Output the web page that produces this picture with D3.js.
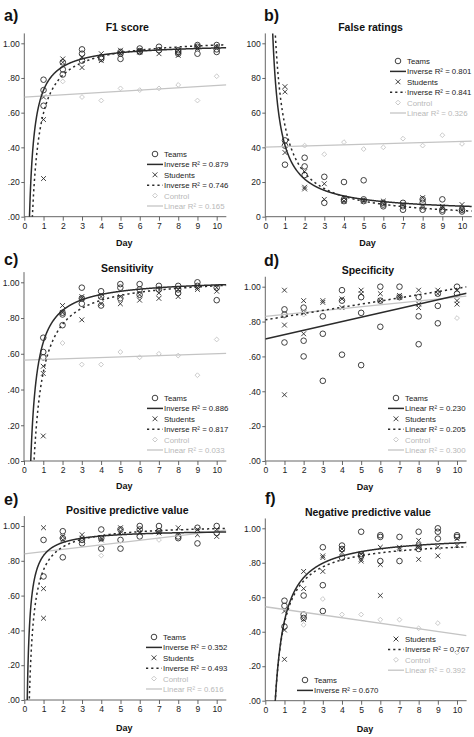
<!DOCTYPE html>
<html>
<head>
<meta charset="utf-8">
<script src="https://cdn.jsdelivr.net/npm/d3@7"></script>
<style>
  body { margin: 0; background: #fff; }
  text { font-family: "Liberation Sans", Arial, sans-serif; }
</style>
</head>
<body>
<svg id="chart" width="474" height="737"></svg>
<script>
// DATA: [day, value]
const f1Teams = [[1,.79],[1,.73],[1,.64],[2,.89],[2,.85],[2,.82],[3,.965],[3,.94],[3,.90],[4,.92],[4,.91],[5,.91],[5,.94],[5,.95],[6,.97],[6,.955],[6,.95],[7,.98],[7,.96],[8,.96],[8,.94],[8,.95],[9,.99],[9,.98],[9,.94],[10,.99],[10,.965],[10,.95]];
const f1Students = [[1,.69],[1,.56],[1,.22],[2,.91],[2,.89],[3,.86],[3,.92],[4,.94],[4,.90],[5,.96],[5,.94],[6,.95],[6,.96],[7,.94],[8,.93],[8,.96],[9,.98],[9,.97],[10,.98]];
const f1Control = [[2,.78],[3,.69],[4,.67],[5,.74],[6,.73],[7,.74],[8,.76],[9,.67],[10,.81]];
const f1Fits = [
  { group: "Teams", model: "Inverse", b0: 1.0, b1: -0.27, r2: "0.879" },
  { group: "Students", model: "Inverse", b0: 1.033, b1: -0.434, r2: "0.746" },
  { group: "Control", model: "Linear", b0: 0.69, b1: 0.0067, r2: "0.165" }
];

const falseTeams = [[1,44],[1,41],[1,30],[2,34],[2,29],[2,24],[3,23],[3,8],[4,20],[4,10],[4,9],[5,21],[5,10],[5,9],[6,8],[6,7],[6,6],[7,8],[7,6],[7,4],[8,10],[8,8],[8,4],[9,10],[9,4],[9,3],[10,4],[10,3]];
const falseStudents = [[1,75],[1,72],[1,37],[2,26],[2,17],[2,16],[3,19],[3,10],[4,11],[4,9],[5,9],[6,9],[7,7],[8,11],[8,5],[9,6],[9,5],[10,7],[10,4]];
const falseControl = [[2,41],[3,36],[4,43],[5,39],[6,40],[7,45],[8,41],[9,47],[10,42]];
const falseFits = [
  { group: "Teams", model: "Inverse", b0: 2.2, b1: 39, r2: "0.801" },
  { group: "Students", model: "Inverse", b0: -1.95, b1: 54.5, r2: "0.841" },
  { group: "Control", model: "Linear", b0: 40.1, b1: 0.33, r2: "0.326" }
];

const sensTeams = [[1,.69],[1,.61],[1,.58],[2,.83],[2,.82],[2,.76],[3,.97],[3,.91],[3,.88],[4,.95],[4,.92],[4,.87],[5,.99],[5,.97],[5,.91],[6,.99],[6,.96],[6,.93],[7,.98],[7,.96],[8,.98],[8,.96],[8,.94],[9,1.0],[9,.98],[10,.97],[10,.90]];
const sensStudents = [[1,.53],[1,.49],[1,.14],[2,.87],[2,.83],[3,.92],[3,.91],[3,.79],[4,.92],[4,.88],[5,.92],[5,.88],[6,.93],[6,.90],[7,.94],[7,.91],[8,.96],[8,.92],[9,.97],[9,.96],[10,.97],[10,.95]];
const sensControl = [[2,.66],[3,.54],[4,.54],[5,.61],[6,.58],[7,.60],[8,.59],[9,.48],[10,.68]];
const sensFits = [
  { group: "Teams", model: "Inverse", b0: 1.021, b1: -0.357, r2: "0.886" },
  { group: "Students", model: "Inverse", b0: 1.034, b1: -0.538, r2: "0.817" },
  { group: "Control", model: "Linear", b0: 0.565, b1: 0.0035, r2: "0.033" }
];

const specTeams = [[1,.87],[1,.84],[1,.68],[2,.88],[2,.69],[2,.60],[3,.83],[3,.73],[3,.46],[4,.98],[4,.92],[4,.61],[5,.94],[5,.85],[5,.55],[6,1.0],[6,.92],[6,.77],[7,1.0],[7,.94],[8,.94],[8,.83],[8,.67],[9,.96],[9,.89],[9,.79],[10,1.0],[10,.96]];
const specStudents = [[1,.98],[1,.78],[1,.38],[2,.92],[2,.85],[2,.73],[3,.92],[3,.91],[4,.93],[4,.88],[5,.98],[5,.96],[6,.96],[6,.92],[7,.95],[7,.94],[8,.98],[8,.90],[8,.88],[9,.98],[9,.96],[10,.98],[10,.92],[10,.90]];
const specControl = [[1,.83],[2,.84],[6,.92],[7,.94],[9,.97],[10,.82]];
const specFits = [
  { group: "Teams", model: "Linear", b0: 0.70, b1: 0.025, r2: "0.230" },
  { group: "Students", model: "Linear", b0: 0.81, b1: 0.018, r2: "0.205" },
  { group: "Control", model: "Linear", b0: 0.83, b1: 0.011, r2: "0.300" }
];

const ppvTeams = [[1,.92],[1,.71],[2,.97],[2,.93],[2,.82],[3,.92],[3,.90],[4,.98],[4,.93],[4,.87],[5,.98],[5,.92],[5,.87],[6,1.0],[6,.98],[6,.94],[7,1.0],[7,.97],[8,.94],[8,.93],[9,.99],[9,.90],[10,1.0],[10,.96]];
const ppvStudents = [[1,.99],[1,.64],[1,.47],[2,.94],[2,.92],[3,.95],[3,.93],[4,.93],[4,.92],[5,.99],[5,.97],[6,.98],[6,.96],[7,.97],[7,.96],[8,.99],[8,.95],[9,.98],[9,.95],[10,.98],[10,.94]];
const ppvControl = [[4,.83],[7,.92]];
const ppvFits = [
  { group: "Teams", model: "Inverse", b0: 0.98, b1: -0.15, r2: "0.352" },
  { group: "Students", model: "Inverse", b0: 1.011, b1: -0.263, r2: "0.493" },
  { group: "Control", model: "Linear", b0: 0.84, b1: 0.013, r2: "0.616" }
];

const npvTeams = [[1,.58],[1,.55],[1,.43],[2,.61],[2,.50],[2,.48],[3,.89],[3,.67],[3,.52],[4,.90],[4,.88],[4,.83],[5,.98],[5,.85],[5,.84],[6,.96],[6,.95],[6,.81],[7,.95],[7,.81],[8,.98],[8,.90],[8,.88],[9,1.0],[9,.98],[9,.94],[10,.96],[10,.95]];
const npvStudents = [[1,.52],[1,.41],[1,.24],[2,.75],[2,.65],[2,.47],[3,.84],[3,.83],[3,.75],[4,.88],[4,.86],[5,.85],[5,.82],[5,.81],[6,.89],[6,.79],[6,.61],[7,.89],[7,.88],[8,.93],[8,.89],[8,.82],[9,.89],[9,.84],[10,.94],[10,.90]];
const npvControl = [[2,.44],[3,.59],[4,.50],[5,.50],[6,.47],[7,.47],[8,.42],[9,.45],[10,.28]];
const npvFits = [
  { group: "Teams", model: "Inverse", b0: 0.965, b1: -0.502, r2: "0.670" },
  { group: "Students", model: "Inverse", b0: 0.939, b1: -0.488, r2: "0.767" },
  { group: "Control", model: "Linear", b0: 0.545, b1: -0.016, r2: "0.392" }
];

const groupNames = ["Teams", "Students", "Control"];
const dayTicks = d3.range(0, 11);

// PANEL SETUP (layout only)
const panels = [
  { label: "a)", title: "F1 score", teams: f1Teams, students: f1Students, control: f1Control, fits: f1Fits,
    ymax: 1.057, unit: 1, x0: 24.3, x10: 216.7, yb: 216.7, y1: 43.3,
    lab: [4, 21], titY: 31, dayY: 246, legend: [{ x: 147, y: 154, rows: [0, 1, 2, 3, 4, 5] }] },
  { label: "b)", title: "False ratings", teams: falseTeams, students: falseStudents, control: falseControl, fits: falseFits,
    ymax: 105.7, unit: 100, x0: 265.3, x10: 462, yb: 216.7, y1: 43.3,
    lab: [264, 21], titY: 31, dayY: 246, legend: [{ x: 390, y: 61, rows: [0, 1, 2, 3, 4, 5] }] },
  { label: "c)", title: "Sensitivity", teams: sensTeams, students: sensStudents, control: sensControl, fits: sensFits,
    ymax: 1.057, unit: 1, x0: 24, x10: 216.7, yb: 461, y1: 282.3,
    lab: [4, 265], titY: 272, dayY: 489, legend: [{ x: 147, y: 398, rows: [0, 1, 2, 3, 4, 5] }] },
  { label: "d)", title: "Specificity", teams: specTeams, students: specStudents, control: specControl, fits: specFits,
    ymax: 1.057, unit: 1, x0: 265.3, x10: 457, yb: 461, y1: 286.7,
    lab: [264, 266], titY: 274, dayY: 490, legend: [{ x: 388, y: 398, rows: [0, 1, 2, 3, 4, 5] }] },
  { label: "e)", title: "Positive predictive value", teams: ppvTeams, students: ppvStudents, control: ppvControl, fits: ppvFits,
    ymax: 1.057, unit: 1, x0: 24.3, x10: 216.7, yb: 700, y1: 526,
    lab: [4, 505], titY: 514, dayY: 731, legend: [{ x: 146, y: 637, rows: [0, 1, 2, 3, 4, 5] }] },
  { label: "f)", title: "Negative predictive value", teams: npvTeams, students: npvStudents, control: npvControl, fits: npvFits,
    ymax: 1.057, unit: 1, x0: 265.3, x10: 457, yb: 700.7, y1: 528.3,
    lab: [265, 504], titY: 516, dayY: 732, legend: [{ x: 297, y: 680, rows: [0, 1] }, { x: 388, y: 639, rows: [2, 3, 4, 5] }] }
];

const dark = "#2b2b2b";
const light = "#c4c4c4";
const svg = d3.select("#chart");
const decFmt = d => d === 0 ? ".00" : (d >= 1 ? d3.format(".2f")(d) : d3.format(".2f")(d).replace(/^0/, ""));

// marker drawers
function marker(g, kind, cx, cy) {
  if (kind === 0) {
    g.append("circle").attr("cx", cx).attr("cy", cy).attr("r", 2.8)
      .attr("fill", "none").attr("stroke", dark).attr("stroke-width", 0.9);
  } else if (kind === 1) {
    const s = 2.4;
    g.append("path").attr("d", `M${cx - s},${cy - s}L${cx + s},${cy + s}M${cx - s},${cy + s}L${cx + s},${cy - s}`)
      .attr("stroke", dark).attr("stroke-width", 0.9).attr("fill", "none");
  } else {
    const s = 2.4;
    g.append("path").attr("d", `M${cx},${cy - s}L${cx + s},${cy}L${cx},${cy + s}L${cx - s},${cy}Z`)
      .attr("stroke", light).attr("stroke-width", 0.9).attr("fill", "none");
  }
}
const lineStyle = [
  { stroke: dark, width: 1.5, dash: null },
  { stroke: dark, width: 1.5, dash: "2.2,3" },
  { stroke: light, width: 1.3, dash: null }
];

panels.forEach((p, pi) => {
  const x = d3.scaleLinear().domain([0, 10]).range([p.x0, p.x10]);
  const y = d3.scaleLinear().domain([0, p.unit]).range([p.yb, p.y1]);
  const xEnd = x(10.5), yTop = y(p.ymax);
  const g = svg.append("g");

  // clip region
  const clipId = "clip" + pi;
  svg.append("clipPath").attr("id", clipId).append("rect")
    .attr("x", p.x0).attr("y", yTop).attr("width", xEnd - p.x0).attr("height", p.yb - yTop);

  // axes
  const yTicks = d3.range(0, p.unit * 1.0001 + 1e-9, p.unit / 5);
  const yAxis = g.append("g").attr("transform", `translate(${p.x0},0)`)
    .call(d3.axisLeft(y).tickValues(yTicks).tickSize(3).tickPadding(1.5)
      .tickFormat(p.unit === 1 ? decFmt : d3.format("d")));
  yAxis.select(".domain").attr("d", `M0,${yTop}V${p.yb}`);
  const xAxis = g.append("g").attr("transform", `translate(0,${p.yb})`)
    .call(d3.axisBottom(x).tickValues(dayTicks).tickSize(4).tickPadding(2));
  xAxis.select(".domain").attr("d", `M${p.x0},0H${xEnd}`);
  g.selectAll(".tick text").attr("font-size", 8.6).attr("fill", "#222")
    .attr("font-family", "Liberation Sans, Arial, sans-serif");
  g.selectAll(".domain, .tick line").attr("stroke", "#555").attr("stroke-width", 0.9);

  // points: control first (light), then teams, then students
  const pts = g.append("g");
  p.control.forEach(d => marker(pts, 2, x(d[0]), y(d[1])));

  // fit lines
  const fitG = g.append("g").attr("clip-path", `url(#${clipId})`);
  const xs = d3.range(0.02, 10.5001, 0.01);
  p.fits.forEach((f, fi) => {
    const fn = f.model === "Inverse" ? (t => f.b0 + f.b1 / t) : (t => f.b0 + f.b1 * t);
    const xsUse = f.model === "Inverse" ? xs : [0, 10.5];
    const pts2 = xsUse.map(t => [t, fn(t)]).filter(d => isFinite(d[1]));
    const clipped = pts2.map(d => [d[0], Math.max(-0.3 * p.unit, Math.min(p.unit * 1.3, d[1]))]);
    const st = lineStyle[fi];
    fitG.append("path").datum(clipped)
      .attr("d", d3.line().x(d => x(d[0])).y(d => y(d[1])))
      .attr("fill", "none").attr("stroke", st.stroke).attr("stroke-width", st.width)
      .attr("stroke-dasharray", st.dash);
  });
  // draw control line beneath dark ones: reorder
  fitG.select("path:last-child").lower();

  p.teams.forEach(d => marker(pts, 0, x(d[0]), y(d[1])));
  p.students.forEach(d => marker(pts, 1, x(d[0]), y(d[1])));

  // labels
  g.append("text").attr("x", p.lab[0]).attr("y", p.lab[1]).text(p.label)
    .attr("font-size", 16).attr("font-weight", "bold").attr("fill", "#111");
  g.append("text").attr("x", (p.x0 + xEnd) / 2 + 2).attr("y", p.titY).text(p.title)
    .attr("text-anchor", "middle").attr("font-size", 10.5).attr("font-weight", "bold").attr("fill", "#111");
  g.append("text").attr("x", (p.x0 + xEnd) / 2 - 1).attr("y", p.dayY).text("Day")
    .attr("text-anchor", "middle").attr("font-size", 9).attr("font-weight", "bold").attr("fill", "#111");

  // legend
  p.legend.forEach(L => {
    L.rows.forEach((r, k) => {
      const gi = Math.floor(r / 2);
      const ry = L.y + (r - L.rows[0]) * 10.4;
      const col = gi === 2 ? "#b8b8b8" : "#222";
      if (r % 2 === 0) {
        marker(g, gi, L.x + 8, ry);
        g.append("text").attr("x", L.x + 17).attr("y", ry + 3).text(groupNames[gi])
          .attr("font-size", 7.8).attr("fill", col);
      } else {
        const st = lineStyle[gi];
        g.append("line").attr("x1", L.x).attr("x2", L.x + 16).attr("y1", ry).attr("y2", ry)
          .attr("stroke", st.stroke).attr("stroke-width", st.width).attr("stroke-dasharray", st.dash);
        const f = p.fits[gi];
        g.append("text").attr("x", L.x + 17).attr("y", ry + 3).text(`${f.model} R² = ${f.r2}`)
          .attr("font-size", 7.8).attr("fill", col);
      }
    });
  });
});
</script>
</body>
</html>
